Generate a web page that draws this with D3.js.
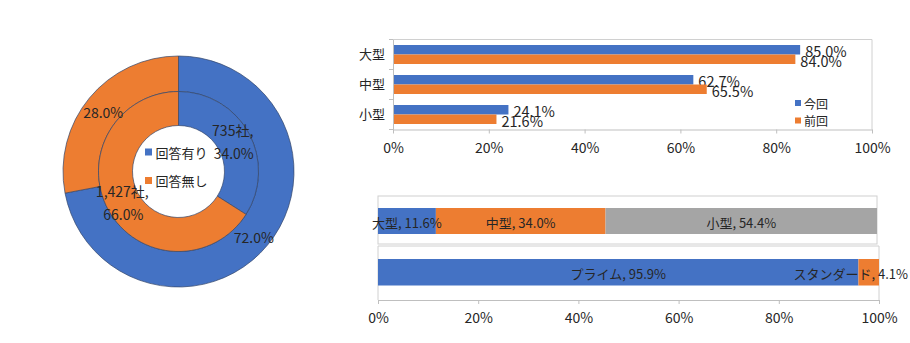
<!DOCTYPE html>
<html><head><meta charset="utf-8">
<script src="https://cdn.jsdelivr.net/npm/d3@7"></script>
<style>
html,body{margin:0;padding:0;background:#fff;}
svg text{font-family:"Noto Sans CJK JP","Noto Sans",sans-serif;fill:#262626;}
</style></head>
<body>
<svg id="c" width="910" height="343"></svg>
<script>
// ---- data ----
const responseLabels = ["回答有り", "回答無し"];
const outerPct = [72.0, 28.0];
const innerCounts = [735, 1427];
const innerPct = [34.0, 66.0];

const sizeCategories = ["大型", "中型", "小型"];
const seriesNames = ["今回", "前回"];
const currentPct = [85.0, 62.7, 24.1];
const previousPct = [84.0, 65.5, 21.6];

const sizeShare = [11.6, 34.0, 54.4];
const marketNames = ["プライム", "スタンダード"];
const marketShare = [95.9, 4.1];

const xTicks = [0, 20, 40, 60, 80, 100];
const colors = ["#4472C4", "#ED7D31", "#A5A5A5"];

const svg = d3.select("#c");

// ---- donut ----
const cx = 178.5, cy = 171.5;
const g = svg.append("g").attr("transform", `translate(${cx},${cy})`);
const pie = d3.pie().sort(null).value(d => d);
const outerArc = d3.arc().innerRadius(80).outerRadius(115.5);
const innerArc = d3.arc().innerRadius(46).outerRadius(80);
const outerData = pie(outerPct);
const innerData = pie(innerPct);
g.selectAll("path.o").data(outerData).join("path").attr("class","o")
  .attr("d", outerArc).attr("fill", (d,i) => colors[i])
  .attr("stroke", "#34466a").attr("stroke-width", 0.7);
g.selectAll("path.i").data(innerData).join("path").attr("class","i")
  .attr("d", innerArc).attr("fill", (d,i) => colors[i])
  .attr("stroke", "#34466a").attr("stroke-width", 0.7);
const fmtInt = d3.format(",");
g.selectAll("text.o").data(outerData).join("text").attr("class","o")
  .attr("x", d => outerArc.centroid(d)[0]).attr("y", d => outerArc.centroid(d)[1] + 3)
  .attr("text-anchor","middle").attr("dominant-baseline","central")
  .attr("font-size", 14).text(d => d.data.toFixed(1) + "%");
innerData.forEach((d, i) => {
  const [x, y] = innerArc.centroid(d);
  const t = g.append("text").attr("text-anchor","middle").attr("font-size",14);
  t.append("tspan").attr("x", x - 1).attr("y", y - 11).attr("dominant-baseline","central")
    .text(fmtInt(innerCounts[i]) + "社,");
  t.append("tspan").attr("x", x).attr("y", y + 12).attr("dominant-baseline","central")
    .text(innerPct[i].toFixed(1) + "%");
});
// legend in hole
responseLabels.forEach((lab, i) => {
  const ly = -19.5 + i * 28.5;
  g.append("rect").attr("x", -33.5).attr("y", ly - 3.5).attr("width", 7).attr("height", 7).attr("fill", colors[i]);
  g.append("text").attr("x", -23).attr("y", ly).attr("dominant-baseline","central")
    .attr("font-size", 13).text(lab);
});

// ---- top bar chart ----
const tb = {l: 393, r: 872, t: 39.5, b: 129.5};
const x1 = d3.scaleLinear().domain([0, 100]).range([tb.l, tb.r]);
const y1 = d3.scaleBand().domain(sizeCategories).range([tb.t, tb.b]);
const ySub = d3.scaleBand().domain(seriesNames).range([0, y1.bandwidth()]).paddingOuter(0.58);
const topG = svg.append("g");
topG.append("path").attr("d", `M${tb.l},${tb.t}H${tb.r}V${tb.b}`).attr("fill","none").attr("stroke","#d0d0d0");
const seriesVals = [currentPct, previousPct];
seriesVals.forEach((vals, s) => {
  sizeCategories.forEach((c, i) => {
    const y = y1(c) + ySub(seriesNames[s]);
    topG.append("rect").attr("x", x1(0)).attr("y", y).attr("width", x1(vals[i]) - x1(0))
      .attr("height", ySub.bandwidth()).attr("fill", colors[s]);
    topG.append("text").attr("x", x1(vals[i]) + 5).attr("y", y + ySub.bandwidth()/2 + 1)
      .attr("dominant-baseline","central").attr("font-size", 14.5).text(vals[i].toFixed(1) + "%");
  });
});
const xAxis1 = topG.append("g").attr("transform", `translate(0,${tb.b})`)
  .call(d3.axisBottom(x1).tickValues(xTicks).tickFormat(d => d + "%").tickSize(4).tickSizeOuter(0));
const yAxis1 = topG.append("g").attr("transform", `translate(${tb.l},0)`)
  .call(d3.axisLeft(y1).tickSize(0).tickPadding(8));
topG.selectAll("line.sep").data(d3.range(sizeCategories.length + 1)).join("line").attr("class","sep")
  .attr("x1", tb.l - 4).attr("x2", tb.l)
  .attr("y1", i => tb.t + i * y1.step()).attr("y2", i => tb.t + i * y1.step())
  .attr("stroke", "#bfbfbf");
[xAxis1, yAxis1].forEach(a => {
  a.selectAll("path,line").attr("stroke", "#bfbfbf");
  a.selectAll("text").attr("font-size", 14).attr("fill", "#262626").attr("font-family", '"Noto Sans CJK JP",sans-serif');
});
xAxis1.selectAll("text").attr("dy", "0.35em").attr("y", 19);
yAxis1.selectAll("text").attr("font-size", 13).attr("dy", "0.35em");
seriesNames.forEach((n, i) => {
  const ly = 103 + i * 17.5;
  topG.append("rect").attr("x", 795).attr("y", ly - 3).attr("width", 6).attr("height", 6).attr("fill", colors[i]);
  topG.append("text").attr("x", 804).attr("y", ly).attr("dominant-baseline","central").attr("font-size", 12).text(n);
});

// ---- bottom stacked bars ----
const bot = svg.append("g");
const x2a = d3.scaleLinear().domain([0, 100]).range([378, 877]);
const x2b = d3.scaleLinear().domain([0, 100]).range([378, 879]);
bot.append("rect").attr("x", 378).attr("y", 196).attr("width", 499).attr("height", 48)
  .attr("fill","none").attr("stroke","#d0d0d0");
bot.append("path").attr("d", "M378,300V246H879V300").attr("fill","none").attr("stroke","#d0d0d0");

function stackBar(vals, names, xs, y0, h, maxRight) {
  let acc = 0;
  vals.forEach((v, i) => {
    const a = acc, b = acc + v; acc = b;
    bot.append("rect").attr("x", xs(a)).attr("y", y0).attr("width", xs(b) - xs(a)).attr("height", h)
      .attr("fill", colors[i]);
  });
  acc = 0;
  vals.forEach((v, i) => {
    const a = acc, b = acc + v; acc = b;
    const t = bot.append("text").attr("y", y0 + h/2 + 1).attr("dominant-baseline","central")
      .attr("text-anchor","middle").attr("font-size", 13).text(names[i] + ", " + v.toFixed(1) + "%");
    let cxm = (xs(a) + xs(b)) / 2;
    const w = t.node().getComputedTextLength();
    if (cxm + w/2 > maxRight) cxm = maxRight - w/2;
    t.attr("x", cxm);
  });
}
stackBar(sizeShare, sizeCategories, x2a, 208, 26, 908);
stackBar(marketShare, marketNames, x2b, 259, 26.5, 908);

const xAxis2 = bot.append("g").attr("transform", "translate(0,300)")
  .call(d3.axisBottom(x2b).tickValues(xTicks).tickFormat(d => d + "%").tickSize(4).tickSizeOuter(0));
xAxis2.selectAll("path,line").attr("stroke", "#bfbfbf");
xAxis2.selectAll("text").attr("font-size", 14).attr("fill", "#262626")
  .attr("font-family", '"Noto Sans CJK JP",sans-serif').attr("dy", "0.35em").attr("y", 18);
</script>
</body></html>
